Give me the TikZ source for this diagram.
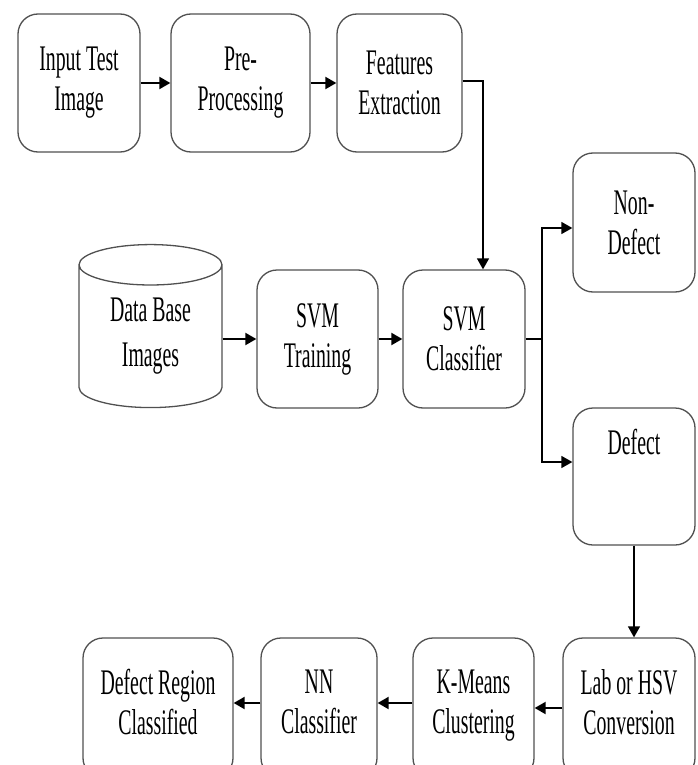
\documentclass[tikz,border=0pt]{standalone}
\usepackage{fontspec}
\usepackage{xcolor}
\usetikzlibrary{arrows.meta}
\usetikzlibrary{shapes.geometric}
\newfontfamily\boxfont{Liberation Serif}[FakeStretch=0.55]
\definecolor{edge}{RGB}{80,80,80}
\newcommand{\lift}{\\[-28pt]\mbox{}}
\begin{document}
\begin{tikzpicture}[x=1pt,y=-1pt,
	box/.style={draw=edge,line width=1.3pt,rounded corners=20pt,align=center,
		font=\boxfont\fontsize{36}{40}\selectfont,inner sep=0pt},
	arr/.style={line width=2pt,-{Triangle[length=11pt,width=12pt]}},
	thinarr/.style={line width=1.4pt,-{Triangle[length=11pt,width=12pt]}}]
	\useasboundingbox (0,0) rectangle (698,765);
	\clip (0,0) rectangle (698,765);
	% top row
	\node[box,minimum width=122pt,minimum height=138pt] (inp) at (79,83) {Input Test\\Image};
	\node[box,minimum width=139pt,minimum height=138pt] (pre) at (240.5,83) {Pre-\\Processing};
	\node[box,minimum width=125pt,minimum height=138pt] (feat) at (399.5,83) {Features\\Extraction};
	% middle row
	\node[cylinder,shape border rotate=90,aspect=0.5,draw=edge,line width=1.3pt,align=center,
		font=\boxfont\fontsize{36}{45}\selectfont,minimum width=143pt,minimum height=163pt,inner sep=0pt]
		(db) at (150.5,336.5) {Data Base\\Images};
	\node[box,minimum width=121pt,minimum height=138pt] (svmt) at (317.5,339) {SVM\\Training};
	\node[box,minimum width=122pt,minimum height=138pt] (svmc) at (464,339) {SVM\\Classifier};
	\node[box,minimum width=122pt,minimum height=139pt] (non) at (634,222.5) {Non-\\Defect};
	\node[box,minimum width=122pt,minimum height=137pt] (def) at (634,476.5) {Defect\\[30pt]\mbox{}};
	% bottom row, runs off the lower edge
	\node[box,minimum width=132pt,minimum height=140pt] (lab) at (629,708) {Lab or HSV\\Conversion\lift};
	\node[box,minimum width=121pt,minimum height=140pt] (km) at (473.5,708) {K-Means\\Clustering\lift};
	\node[box,minimum width=116pt,minimum height=140pt] (nn) at (319,708) {NN\\Classifier\lift};
	\node[box,minimum width=150pt,minimum height=140pt] (dr) at (158,708) {Defect Region\\Classified\lift};

	\coordinate (turn) at (483,81);
	\coordinate (split) at (542,339);

	\draw[arr] (inp) -- (pre);
	\draw[arr] (pre) -- (feat);
	\draw[thinarr] (feat.east |- turn) -- (turn) -- (turn |- svmc.north);
	\draw[arr] (db.east |- svmt) -- (svmt);
	\draw[arr] (svmt) -- (svmc);
	\draw[line width=1.4pt] (svmc.east) -- (split);
	\draw[thinarr] (split) |- ([yshift=-5.5pt]non.west);
	\draw[thinarr] (split) |- ([yshift=14.5pt]def.west);
	\draw[thinarr] (def.south) -- (def.south |- lab.north);
	\draw[arr] (lab) -- (km);
	\draw[arr] ([yshift=5pt]km.west) -- ([yshift=5pt]nn.east);
	\draw[arr] ([yshift=5pt]nn.west) -- ([yshift=5pt]dr.east);
\end{tikzpicture}
\end{document}
